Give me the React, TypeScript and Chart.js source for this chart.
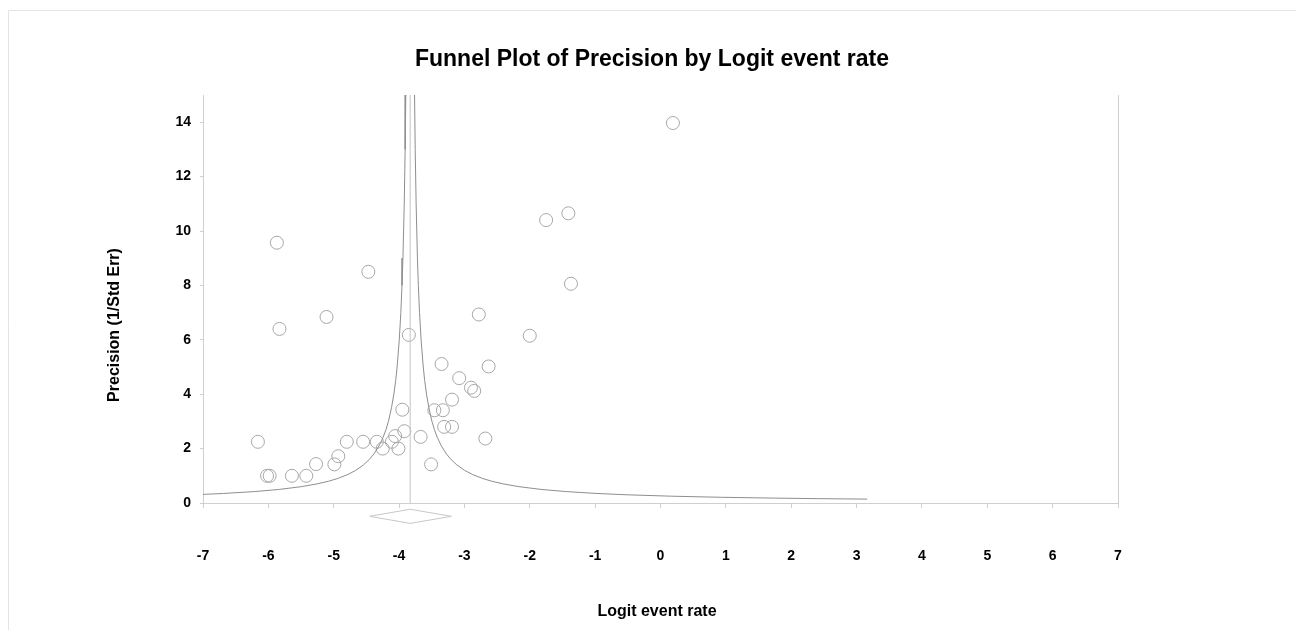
import React, { useEffect, useRef } from 'react';
import { Chart, registerables } from 'chart.js';

Chart.register(...registerables);

// Study points (logit event rate, precision = 1/SE)
const studyLogit = [
  0.19, -1.75, -1.41, -1.37, -2.0, -2.78, -2.63, -3.08, -3.35, -2.9, -2.85,
  -3.19, -3.46, -3.33, -3.31, -3.19, -2.68, -3.51, -3.67, -3.85, -3.95, -3.92,
  -4.01, -4.06, -4.11, -4.25, -4.34, -4.55, -4.8, -4.93, -4.99, -5.27, -5.42,
  -5.64, -5.98, -6.02, -6.16, -5.87, -5.83, -5.11, -4.47,
];
const studyPrecision = [
  13.97, 10.4, 10.65, 8.06, 6.15, 6.93, 5.02, 4.59, 5.11, 4.24, 4.12,
  3.8, 3.41, 3.41, 2.8, 2.8, 2.37, 1.42, 2.43, 6.18, 3.43, 2.64,
  2.0, 2.46, 2.25, 2.0, 2.25, 2.25, 2.25, 1.72, 1.42, 1.43, 1.0,
  1.0, 1.0, 1.0, 2.25, 9.57, 6.4, 6.84, 8.5,
];

// Funnel limits
const funnelPrecision = [
  15, 13, 11, 9, 8, 7, 6, 5, 4.5, 4, 3.5, 3, 2.7, 2.4, 2.1, 1.8, 1.6, 1.4, 1.2,
  1.05, 0.9, 0.8, 0.7, 0.6, 0.5, 0.42, 0.35, 0.3, 0.25, 0.21, 0.18, 0.16, 0.143,
];
const funnelLeft = [
  -3.897, -3.907, -3.921, -3.941, -3.955, -3.973, -3.997, -4.03, -4.052, -4.08,
  -4.116, -4.163, -4.2, -4.247, -4.306, -4.386, -4.455, -4.544, -4.663, -4.782,
  -4.941, -5.08, -5.259, -5.497, -5.83, -6.211, -6.687, -7.163, -7.83, -8.592,
  -9.386, -10.08, -10.823,
];
const funnelRight = [
  -3.763, -3.753, -3.739, -3.719, -3.705, -3.687, -3.663, -3.63, -3.608, -3.58,
  -3.544, -3.497, -3.46, -3.413, -3.354, -3.274, -3.205, -3.116, -2.997, -2.878,
  -2.719, -2.58, -2.401, -2.163, -1.83, -1.449, -0.973, -0.497, 0.17, 0.932,
  1.726, 2.42, 3.163,
];

const meanLogit = -3.83;
const meanLinePrecision = [0, 15];

// Summary diamond (drawn below the axis)
const diamondLogit = [-4.45, -3.83, -3.2, -3.83, -4.45];
const diamondPrecision = [-0.49, -0.23, -0.49, -0.75, -0.49];

const xMin = -7;
const xMax = 7;
const yMin = 0;
const yMax = 15;
const yTickValues = [0, 2, 4, 6, 8, 10, 12, 14];

const titleText = 'Funnel Plot of Precision by Logit event rate';
const xTitleText = 'Logit event rate';
const yTitleText = 'Precision (1/Std Err)';

const FONT = '"Liberation Sans", Arial, Helvetica, sans-serif';

const W = 1296;
const H = 622;

const decorPlugin = {
  id: 'decor',
  beforeDraw(chart: any) {
    const ctx = chart.ctx;
    ctx.save();
    ctx.fillStyle = '#ffffff';
    ctx.fillRect(0, 0, chart.width, chart.height);
    ctx.strokeStyle = '#e4e4e4';
    ctx.lineWidth = 1;
    ctx.beginPath();
    ctx.moveTo(0.5, chart.height);
    ctx.lineTo(0.5, 2.5);
    ctx.lineTo(chart.width, 2.5);
    ctx.stroke();
    ctx.restore();
  },
  afterDraw(chart: any) {
    const ctx = chart.ctx;
    const a = chart.chartArea;
    ctx.save();
    // right border of plot
    ctx.strokeStyle = '#cfcfcf';
    ctx.lineWidth = 1;
    ctx.beginPath();
    ctx.moveTo(Math.round(a.right) + 0.5, a.top);
    ctx.lineTo(Math.round(a.right) + 0.5, a.bottom);
    ctx.stroke();

    ctx.fillStyle = '#000000';
    ctx.textAlign = 'center';
    ctx.textBaseline = 'middle';
    ctx.font = `bold 23px ${FONT}`;
    ctx.fillText(titleText, 644, 52);

    ctx.font = `bold 16px ${FONT}`;
    ctx.fillText(xTitleText, 649, 604);

    ctx.translate(107, 317);
    ctx.rotate(-Math.PI / 2);
    ctx.fillText(yTitleText, 0, 0);
    ctx.restore();
  },
};

export default function App() {
  const ref = useRef<HTMLCanvasElement | null>(null);

  useEffect(() => {
    document.body.style.overflow = 'hidden';
    const canvas = ref.current;
    if (!canvas) return;

    const studies = studyLogit.map((x, i) => ({ x, y: studyPrecision[i] }));
    const left = funnelLeft.map((x, i) => ({ x, y: funnelPrecision[i] }));
    const right = funnelRight.map((x, i) => ({ x, y: funnelPrecision[i] }));
    const meanLine = meanLinePrecision.map((y) => ({ x: meanLogit, y }));
    const diamond = diamondLogit.map((x, i) => ({ x, y: diamondPrecision[i] }));

    const chart = new Chart(canvas, {
      type: 'scatter',
      data: {
        datasets: [
          {
            data: left,
            showLine: true,
            pointRadius: 0,
            borderColor: '#8e8e8e',
            borderWidth: 1,
            fill: false,
          },
          {
            data: right,
            showLine: true,
            pointRadius: 0,
            borderColor: '#8e8e8e',
            borderWidth: 1,
            fill: false,
          },
          {
            data: meanLine,
            showLine: true,
            pointRadius: 0,
            borderColor: '#c4c4c4',
            borderWidth: 1,
            fill: false,
          },
          {
            data: diamond,
            showLine: true,
            pointRadius: 0,
            borderColor: '#c8c8c8',
            borderWidth: 1,
            fill: false,
            clip: false,
          } as any,
          {
            data: studies,
            showLine: false,
            pointStyle: 'circle',
            pointRadius: 6.5,
            pointBorderWidth: 1,
            pointBorderColor: '#a8a8a8',
            pointBackgroundColor: 'rgba(0,0,0,0)',
          },
        ],
      },
      options: {
        responsive: false,
        animation: false,
        devicePixelRatio: 1,
        layout: { padding: { left: 0, right: 186, top: 87, bottom: 0 } },
        plugins: {
          legend: { display: false },
          tooltip: { enabled: false },
          title: { display: false },
        },
        scales: {
          x: {
            type: 'linear',
            min: xMin,
            max: xMax,
            afterFit: (s: any) => {
              s.height = H - 495;
            },
            border: { display: true, color: '#cfcfcf', width: 1 },
            grid: {
              display: true,
              drawOnChartArea: false,
              drawTicks: true,
              tickLength: 5,
              color: '#cfcfcf',
            },
            ticks: {
              stepSize: 1,
              padding: 40,
              color: '#000000',
              font: { family: FONT, size: 14, weight: 'bold' },
            },
          },
          y: {
            type: 'linear',
            min: yMin,
            max: yMax,
            afterFit: (s: any) => {
              s.width = 195;
            },
            afterBuildTicks: (s: any) => {
              s.ticks = yTickValues.map((v) => ({ value: v }));
            },
            border: { display: true, color: '#cfcfcf', width: 1 },
            grid: {
              display: true,
              drawOnChartArea: false,
              drawTicks: true,
              tickLength: 3,
              color: '#cfcfcf',
            },
            ticks: {
              padding: 9,
              color: '#000000',
              font: { family: FONT, size: 14, weight: 'bold' },
            },
          },
        },
      },
      plugins: [decorPlugin],
    } as any);

    return () => {
      chart.destroy();
    };
  }, []);

  return (
    <div style={{ width: W, height: H }}>
      <canvas ref={ref} width={W} height={H} style={{ display: 'block', width: W, height: H }} />
    </div>
  );
}
